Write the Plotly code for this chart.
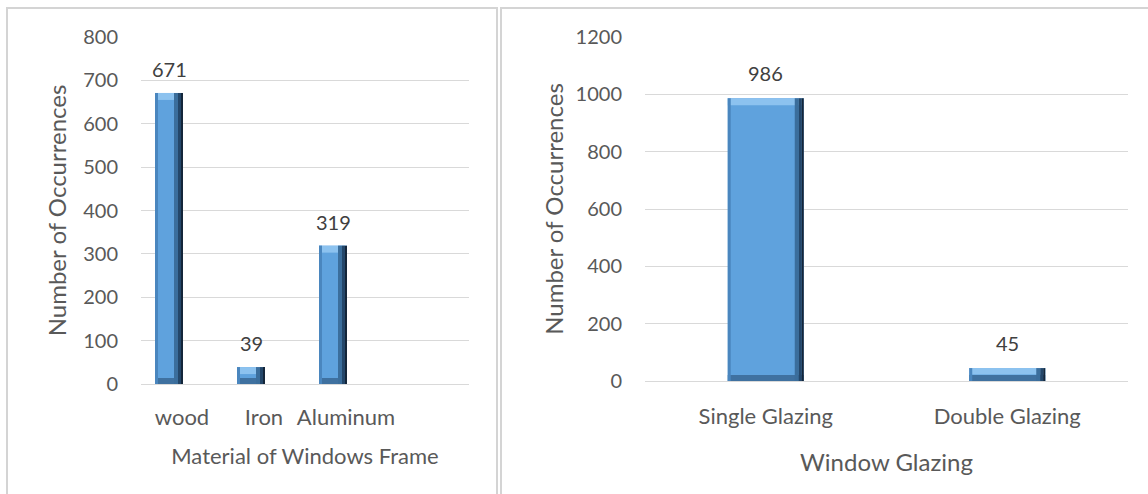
import plotly.graph_objects as go

# ---- data ----
frame_materials = ["wood", "Iron", "Aluminum"]
frame_counts = [671, 39, 319]
glazing_types = ["Single Glazing", "Double Glazing"]
glazing_counts = [986, 45]
left_ticks = [0, 100, 200, 300, 400, 500, 600, 700, 800]
right_ticks = [0, 200, 400, 600, 800, 1000, 1200]

W, H = 1148, 494
FONT = "Lato"
TXT = "#595959"
GRID = "#D9D9D9"


def px(x):
    return x / W


def py(y):
    return 1 - y / H


fig = go.Figure()


def bevel_bars(cats, vals, xa, ya, cat_px, unit_px, bar_px, off_px):
    """cat_px: pixels per category, unit_px: pixels per data unit,
    bar_px: bar width in px, off_px: bar left edge relative to category centre."""
    u = 1.0 / cat_px
    w = bar_px * u
    off = off_px * u
    common = dict(x=cats, xaxis=xa, yaxis=ya, hoverinfo="skip", showlegend=False)
    fig.add_trace(go.Bar(y=vals, width=w, offset=off,
                         marker=dict(color="#5FA2DD", line=dict(width=0)), **common))
    dtop = 7 / unit_px
    fig.add_trace(go.Bar(y=[min(dtop, v / 2) for v in vals],
                         base=[v - min(dtop, v / 2) for v in vals],
                         width=w, offset=off,
                         marker=dict(color="#8CC2EF", line=dict(width=0)), **common))
    dbot = 6 / unit_px
    fig.add_trace(go.Bar(y=[min(dbot, v / 2) for v in vals], width=w, offset=off,
                         marker=dict(color="#3F71A0", line=dict(width=0)), **common))
    fig.add_trace(go.Bar(y=vals, width=3 * u, offset=off,
                         marker=dict(color="#4A86BE", line=dict(width=0)), **common))
    strips = [(4, "#3B6E9C"), (3, "#24476A"), (2, "#14263A")]
    acc = bar_px - sum(s for s, _ in strips)
    for sw, col in strips:
        fig.add_trace(go.Bar(y=vals, width=sw * u, offset=off + acc * u,
                             marker=dict(color=col, line=dict(width=0)), **common))
        acc += sw


L_x0, L_x1, L_top, L_bot = 141, 469, 37, 384
L_cat = (L_x1 - L_x0) / 4
L_unit = (L_bot - L_top) / 800
bevel_bars(frame_materials, frame_counts, "x", "y", L_cat, L_unit, 28, -27)

R_x0, R_x1, R_top, R_bot = 645, 1128, 37, 381
R_cat = (R_x1 - R_x0) / 2
R_unit = (R_bot - R_top) / 1200
bevel_bars(glazing_types, glazing_counts, "x2", "y2", R_cat, R_unit, 76, -38)

annotations = []
for i, (c, v) in enumerate(zip(frame_materials, frame_counts)):
    annotations.append(dict(x=i + (-27 + 14) / L_cat, y=v, xref="x", yref="y",
                            text=str(v), showarrow=False, yanchor="middle", yshift=24,
                            font=dict(family=FONT, size=20, color="#404040")))
for i, (c, v) in enumerate(zip(glazing_types, glazing_counts)):
    annotations.append(dict(x=i, y=v, xref="x2", yref="y2",
                            text=str(v), showarrow=False, yanchor="middle", yshift=25,
                            font=dict(family=FONT, size=20, color="#404040")))

shapes = [
    dict(type="rect", xref="paper", yref="paper", x0=px(7), x1=px(497), y0=py(520), y1=py(8),
         line=dict(color="#D4D4D4", width=2), layer="below"),
    dict(type="rect", xref="paper", yref="paper", x0=px(501), x1=px(1180), y0=py(520), y1=py(8),
         line=dict(color="#D4D4D4", width=2), layer="below"),
]

fig.update_layout(
    template="none",
    width=W, height=H,
    margin=dict(l=0, r=0, t=0, b=0, pad=0),
    paper_bgcolor="white", plot_bgcolor="white",
    barmode="overlay",
    showlegend=False,
    font=dict(family=FONT, color=TXT),
    annotations=annotations,
    shapes=shapes,
    xaxis=dict(domain=[px(L_x0), px(L_x1)], anchor="y", type="category", range=[-0.5, 3.5],
               automargin=False, showgrid=False, showline=False, zeroline=False,
               ticks="", ticklabelstandoff=18,
               tickfont=dict(size=22, color=TXT),
               title=dict(text="Material of Windows Frame", font=dict(size=22, color=TXT), standoff=19)),
    yaxis=dict(domain=[py(L_bot), py(L_top)], anchor="x", range=[0, 800], tickvals=left_ticks,
               automargin=False, showgrid=True, gridcolor=GRID, gridwidth=1,
               zeroline=True, zerolinecolor=GRID, zerolinewidth=1,
               showline=False, ticks="", ticklabelstandoff=22,
               tickfont=dict(size=20, color=TXT),
               title=dict(text="Number of Occurrences", font=dict(size=24, color=TXT), standoff=9)),
    xaxis2=dict(domain=[px(R_x0), px(R_x1)], anchor="y2", type="category",
                automargin=False, showgrid=False, showline=False, zeroline=False,
                ticks="", ticklabelstandoff=20,
                tickfont=dict(size=22, color=TXT),
                title=dict(text="Window Glazing", font=dict(size=24, color=TXT), standoff=26)),
    yaxis2=dict(domain=[py(R_bot), py(R_top)], anchor="x2", range=[0, 1200], tickvals=right_ticks,
                automargin=False, showgrid=True, gridcolor=GRID, gridwidth=1,
                zeroline=True, zerolinecolor=GRID, zerolinewidth=1,
                showline=False, ticks="", ticklabelstandoff=22,
                tickfont=dict(size=20, color=TXT),
                title=dict(text="Number of Occurrences", font=dict(size=24, color=TXT), standoff=5)),
)

fig.write_html("out.html")
